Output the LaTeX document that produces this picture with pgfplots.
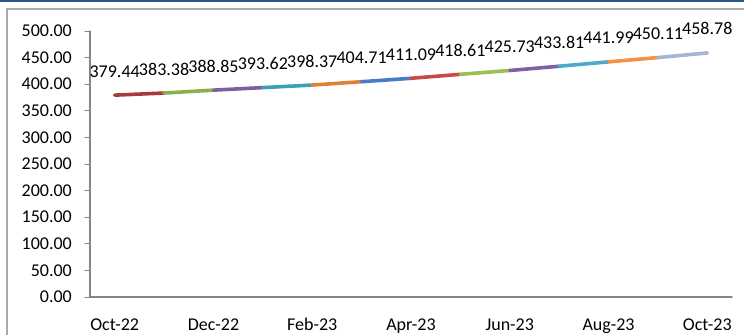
\documentclass[border=0pt]{standalone}
\usepackage{pgfplots}
\usepackage{pgfplotstable}
\pgfplotsset{compat=1.18}
\usepackage{fontspec}
\setmainfont{Carlito}
\definecolor{s1}{RGB}{165,60,58}
\definecolor{s2}{RGB}{140,175,75}
\definecolor{s3}{RGB}{125,95,160}
\definecolor{s4}{RGB}{60,160,180}
\definecolor{s5}{RGB}{220,130,55}
\definecolor{s6}{RGB}{70,125,200}
\definecolor{s7}{RGB}{200,75,75}
\definecolor{s8}{RGB}{155,190,85}
\definecolor{s9}{RGB}{128,95,165}
\definecolor{s10}{RGB}{75,170,200}
\definecolor{s11}{RGB}{245,145,65}
\definecolor{s12}{RGB}{165,180,215}
\definecolor{axgray}{RGB}{134,134,134}
\definecolor{framegray}{RGB}{170,170,170}
\definecolor{topblue}{RGB}{47,85,130}
\pgfplotstableread{
x y lab
0 379.44 379.44
1 383.38 383.38
2 388.85 388.85
3 393.62 393.62
4 398.37 398.37
5 404.71 404.71
6 411.09 411.09
7 418.61 418.61
8 425.73 425.73
9 433.81 433.81
10 441.99 441.99
11 450.11 450.11
12 458.78 458.78
}\datatable
\begin{document}
\begin{tikzpicture}[x=1bp,y=1bp]
\useasboundingbox (0,0) rectangle (744,335);
\fill[topblue] (0,333.3) rectangle (744,335);
\draw[framegray, line width=1.5bp] (7,0) -- (7,326) -- (744,326);
\begin{axis}[
  at={(90bp,38bp)}, anchor=south west,
  scale only axis, width=642bp, height=266bp,
  xmin=-0.5, xmax=12.5, ymin=0, ymax=500,
  axis x line*=bottom, axis y line*=left,
  axis line style={axgray, line width=1.3bp, -},
  tick style={axgray, line width=1bp},
  tick align=outside, major tick length=5bp,
  ytick={0,50,...,500},
  y tick label style={/pgf/number format/fixed, /pgf/number format/fixed zerofill, /pgf/number format/precision=2, /pgf/number format/assume math mode=true},
  xtick={0,2,...,12},
  xticklabels={Oct-22,Dec-22,Feb-23,Apr-23,Jun-23,Aug-23,Oct-23},
  x tick style={draw=none},
  extra x ticks={-0.5,1.5,...,11.5},
  extra x tick labels={},
  extra x tick style={tick style={axgray, line width=1bp}},
  ticklabel style={font=\fontsize{18bp}{21bp}\selectfont, text=black},
  yticklabel style={inner sep=0pt, anchor=east, xshift=-13bp},
  xticklabel style={inner sep=0pt, anchor=base, yshift=-28bp},
  clip=false,
  line cap=round,
]
\addplot[s1, line width=3.6bp] coordinates {(0,379.44) (1,383.38)};
\addplot[s2, line width=3.6bp] coordinates {(1,383.38) (2,388.85)};
\addplot[s3, line width=3.6bp] coordinates {(2,388.85) (3,393.62)};
\addplot[s4, line width=3.6bp] coordinates {(3,393.62) (4,398.37)};
\addplot[s5, line width=3.6bp] coordinates {(4,398.37) (5,404.71)};
\addplot[s6, line width=3.6bp] coordinates {(5,404.71) (6,411.09)};
\addplot[s7, line width=3.6bp] coordinates {(6,411.09) (7,418.61)};
\addplot[s8, line width=3.6bp] coordinates {(7,418.61) (8,425.73)};
\addplot[s9, line width=3.6bp] coordinates {(8,425.73) (9,433.81)};
\addplot[s10, line width=3.6bp] coordinates {(9,433.81) (10,441.99)};
\addplot[s11, line width=3.6bp] coordinates {(10,441.99) (11,450.11)};
\addplot[s12, line width=3.6bp] coordinates {(11,450.11) (12,458.78)};
\addplot[draw=none, mark=none,
  point meta=explicit symbolic,
  nodes near coords,
  nodes near coords style={font=\fontsize{18bp}{21bp}\selectfont, text=black, anchor=base, inner sep=0pt, yshift=18bp},
] table[x=x, y=y, meta=lab] {\datatable};
\end{axis}
\end{tikzpicture}
\end{document}
